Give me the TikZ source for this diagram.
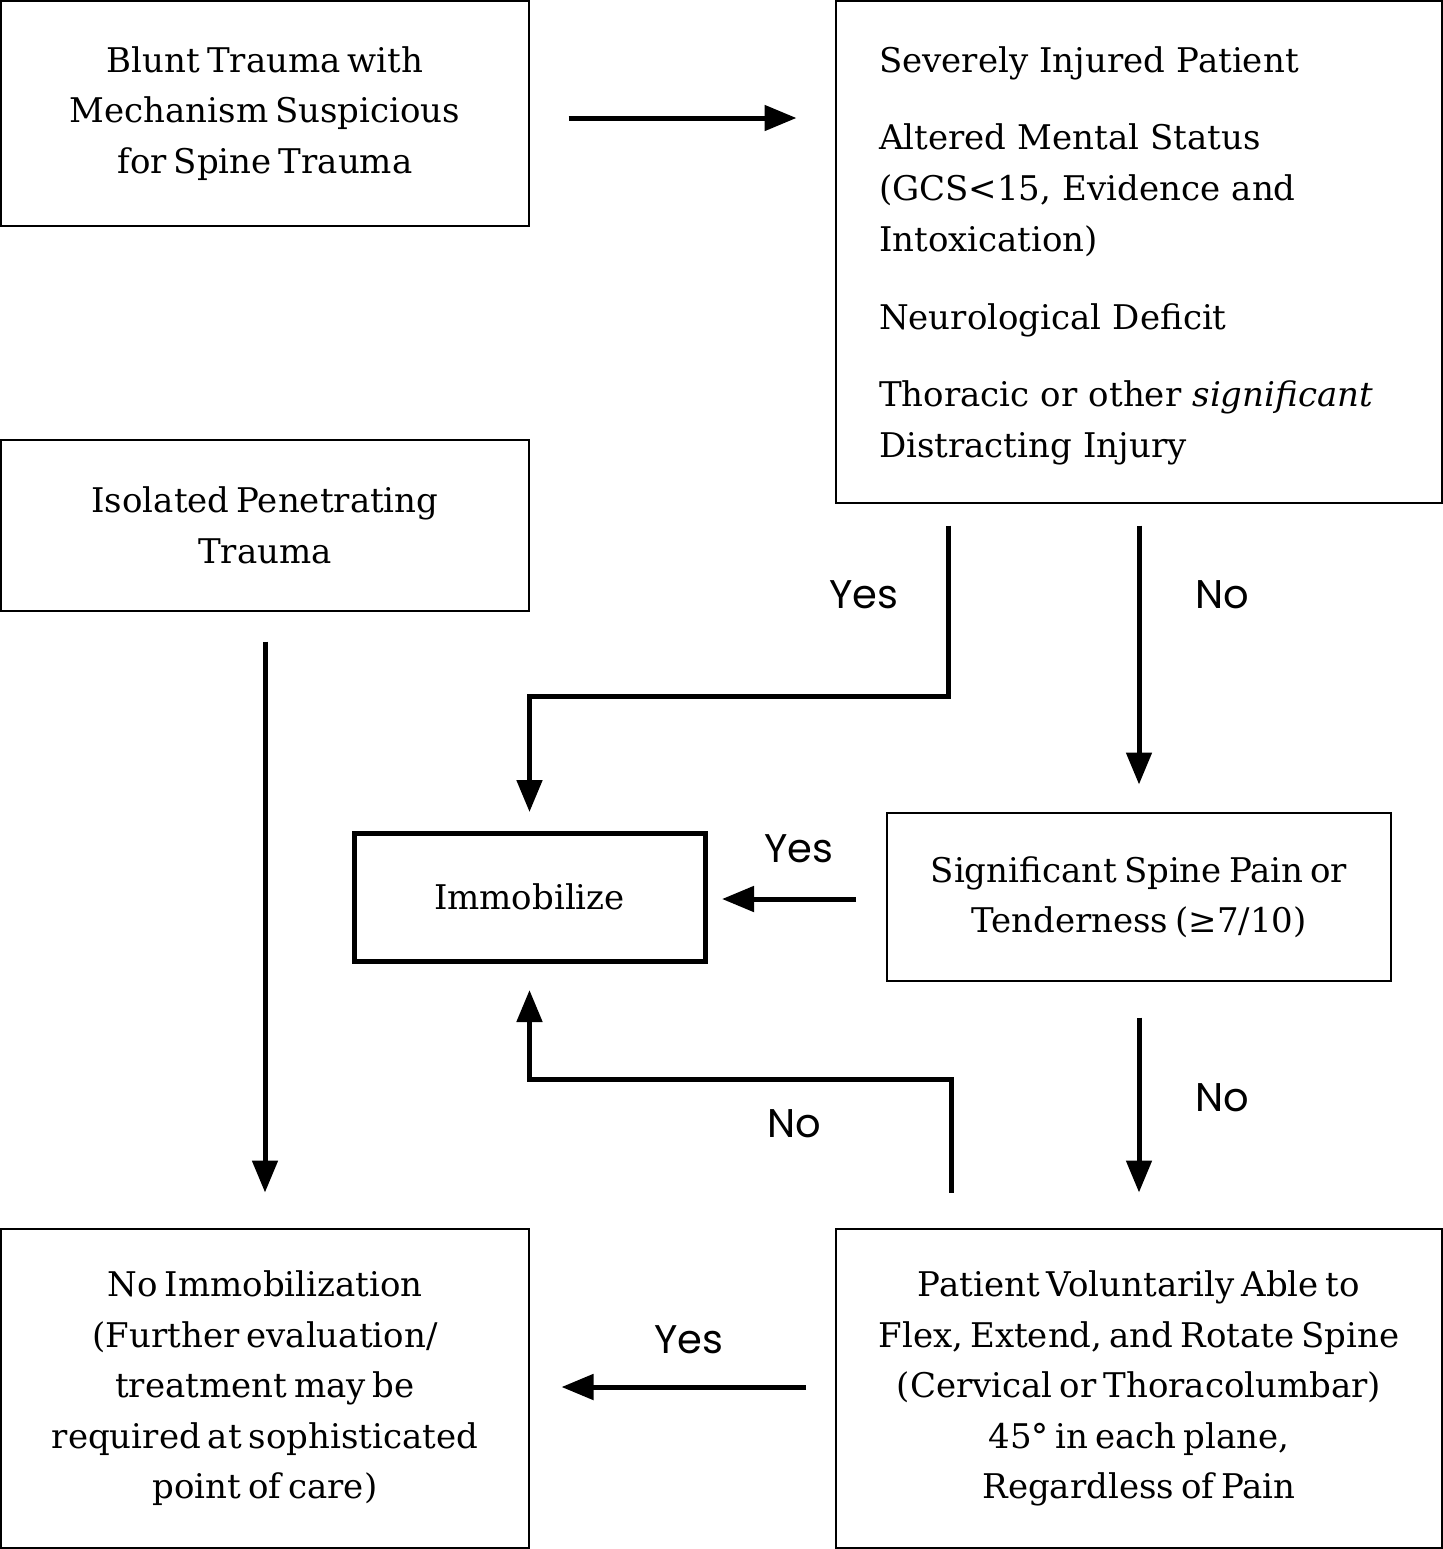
\documentclass[tikz,border=0pt]{standalone}
\usepackage{fontspec}
\setmainfont{DejaVu Serif}[WordSpace=0.65]
\newfontfamily\labfont{Poppins}
\usetikzlibrary{arrows.meta,calc}
\tikzset{
 box/.style={draw, line width=1pt, inner sep=0pt, align=center, font=\fontsize{17pt}{25.25pt}\selectfont},
 thickbox/.style={box, line width=2.5pt},
 arr/.style={line width=2.5pt, -{Triangle[length=16pt,width=12.5pt]}},
 lab/.style={font=\labfont\fontsize{20pt}{24pt}\selectfont, inner sep=0pt},
}
\begin{document}
\begin{tikzpicture}[x=0.5pt,y=-0.5pt]
\useasboundingbox (0,0) rectangle (1443,1549);
% boxes
\node[box, minimum width=264pt, minimum height=112.5pt] (A) at (265,113.5)
  {Blunt Trauma with\\Mechanism Suspicious\\for Spine Trauma};
\node[box, align=left, text width=260pt, inner xsep=21.5pt, minimum height=251pt,
  font=\fontsize{17pt}{25.5pt}\selectfont] (B) at (1139,252)
  {\rule{0pt}{17pt}Severely Injured Patient\\[13.25pt]
   Altered Mental Status\\(GCS<15, Evidence and\\Intoxication)\\[13.25pt]
   Neurological Deficit\\[13.25pt]
   Thoracic or other \textit{significant}\\Distracting Injury};
\node[box, minimum width=264pt, minimum height=85.5pt] (C) at (265,525.5)
  {Isolated Penetrating\\Trauma};
\node[thickbox, minimum width=175.5pt, minimum height=64pt] (D) at (529.5,897)
  {Immobilize};
\node[box, minimum width=252pt, minimum height=84pt] (E) at (1139,897)
  {Significant Spine Pain or\\Tenderness (≥7/10)};
\node[box, minimum width=264pt, minimum height=159.5pt] (F) at (265,1388.5)
  {No Immobilization\\(Further evaluation/\\treatment may be\\required at sophisticated\\point of care)};
\node[box, minimum width=303pt, minimum height=159.5pt] (G) at (1139,1388.5)
  {Patient Voluntarily Able to\\Flex, Extend, and Rotate Spine\\(Cervical or Thoracolumbar)\\45° in each plane,\\Regardless of Pain};
% connectors
\draw[arr, shorten <=19.25pt, shorten >=19.25pt] ($(A.east)+(0,4.5)$) -- ($(A.east -| B.west)+(0,4.5)$);
\draw[arr, shorten <=10.75pt, shorten >=9.25pt] ([xshift=-95.5pt]B.south) -- ++(0,192) -| (D.north);
\draw[arr, shorten <=10.75pt, shorten >=13.75pt] (B.south) -- (E.north);
\draw[arr, shorten <=14.75pt, shorten >=17.75pt] (C.south) -- (F.north);
\draw[arr, shorten <=15pt, shorten >=7.25pt] ($(E.west)+(0,2)$) -- ($(E.west -| D.east)+(0,2)$);
\draw[arr, shorten <=17.75pt, shorten >=17.75pt] (E.south) -- (G.north);
\draw[arr, shorten <=17.75pt, shorten >=13.25pt] ([xshift=-94pt]G.north) -- ++(0,-149) -| (D.south);
\draw[arr, shorten <=14.5pt, shorten >=15.75pt] ($(G.west)+(0,-1.5)$) -- ($(G.west -| F.east)+(0,-1.5)$);
% labels
\node[lab] (l1) at (864,594.5) {Yes};
\node[lab] (l2) at (1222,594.5) {No};
\node[lab] (l3) at (799,849) {Yes};
\node[lab] (l4) at (1222,1098) {No};
\node[lab] (l5) at (794,1124) {No};
\node[lab] (l6) at (689,1340) {Yes};
\end{tikzpicture}
\end{document}
